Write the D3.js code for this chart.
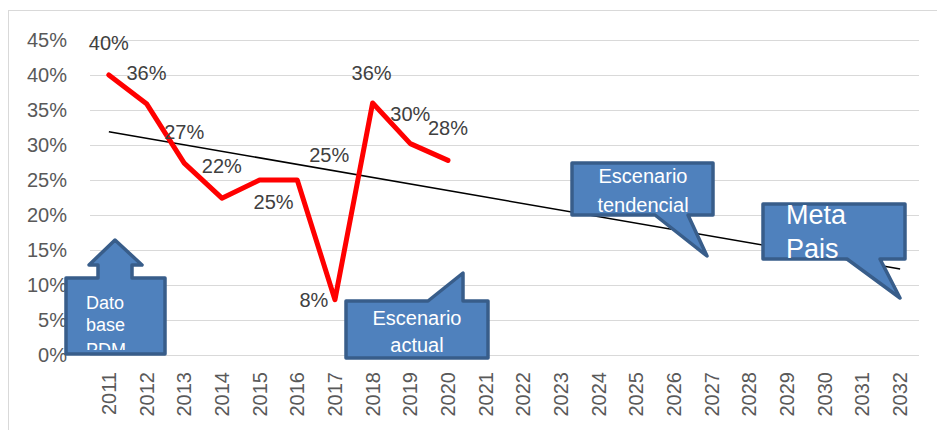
<!DOCTYPE html>
<html>
<head>
<meta charset="utf-8">
<script src="https://cdn.jsdelivr.net/npm/d3@7"></script>
<style>
  html, body { margin: 0; padding: 0; background: #fff; }
  svg text { font-family: "Liberation Sans", Arial, sans-serif; }
</style>
</head>
<body>
<svg id="chart" width="937" height="430"></svg>
<script>
// ---- data ----
const years = ["2011","2012","2013","2014","2015","2016","2017","2018","2019","2020","2021","2022","2023","2024","2025","2026","2027","2028","2029","2030","2031","2032"];
const actualYears = ["2011","2012","2013","2014","2015","2016","2017","2018","2019","2020"];
const actualValues = [0.40, 0.359, 0.274, 0.224, 0.25, 0.25, 0.079, 0.36, 0.302, 0.278];
const actualLabels = ["40%","36%","27%","22%","25%","25%","8%","36%","30%","28%"];
const trendYears = ["2011","2032"];
const trendValues = [0.319, 0.123];
const yTicks = [0, 0.05, 0.10, 0.15, 0.20, 0.25, 0.30, 0.35, 0.40, 0.45];
const yTickLabels = ["0%","5%","10%","15%","20%","25%","30%","35%","40%","45%"];

// ---- layout ----
const svg = d3.select("#chart");
const plot = {left: 90, right: 919, top: 40, bottom: 355};

svg.append("rect").attr("x", 8.5).attr("y", 10.5).attr("width", 960).attr("height", 440)
  .attr("fill", "#fff").attr("stroke", "#d9d9d9").attr("stroke-width", 1);

const x = d3.scaleBand().domain(years).range([plot.left, plot.right]).padding(0);
const xc = d => x(d) + x.bandwidth() / 2;
const y = d3.scaleLinear().domain([0, 0.45]).range([plot.bottom, plot.top]);

// gridlines
svg.append("g").selectAll("line").data(yTicks).join("line")
  .attr("x1", plot.left).attr("x2", plot.right)
  .attr("y1", d => Math.round(y(d)) + 0.5).attr("y2", d => Math.round(y(d)) + 0.5)
  .attr("stroke", "#d9d9d9").attr("stroke-width", 1.2);

// y axis labels
const yAxis = d3.axisLeft(y).tickValues(yTicks).tickSize(0).tickPadding(0)
  .tickFormat((d, i) => yTickLabels[i]);
const gy = svg.append("g").attr("transform", `translate(67,0)`).call(yAxis);
gy.select(".domain").remove();
gy.selectAll("text").attr("font-size", 20).attr("fill", "#595959")
  .attr("font-family", "'Liberation Sans', Arial, sans-serif");

// x axis labels
const xAxis = d3.axisBottom(x).tickSize(0).tickPadding(0);
const gx = svg.append("g").attr("transform", `translate(0,${plot.bottom})`).call(xAxis);
gx.select(".domain").remove();
gx.selectAll("text")
  .attr("font-size", 20).attr("fill", "#595959")
  .attr("font-family", "'Liberation Sans', Arial, sans-serif")
  .attr("text-anchor", "end")
  .attr("transform", "rotate(-90)")
  .attr("x", -17).attr("y", 0).attr("dy", "0.35em");

// trend line
const trend = trendYears.map((d, i) => ({year: d, v: trendValues[i]}));
svg.append("path").datum(trend)
  .attr("d", d3.line().x(d => xc(d.year)).y(d => y(d.v)))
  .attr("fill", "none").attr("stroke", "#000").attr("stroke-width", 1.5);

// actual line
const actual = actualYears.map((d, i) => ({year: d, v: actualValues[i], label: actualLabels[i]}));
svg.append("path").datum(actual)
  .attr("d", d3.line().x(d => xc(d.year)).y(d => y(d.v)))
  .attr("fill", "none").attr("stroke", "#ff0000").attr("stroke-width", 5)
  .attr("stroke-linejoin", "round").attr("stroke-linecap", "round");

// data labels (offsets relative to each point)
const labelOffsets = [[0,-25],[0,-24],[0,-24],[0,-25],[14,29],[32,-18],[-21,7],[-1,-23],[0,-23],[0,-25]];
svg.append("g").selectAll("text").data(actual).join("text")
  .attr("x", (d, i) => xc(d.year) + labelOffsets[i][0])
  .attr("y", (d, i) => y(d.v) + labelOffsets[i][1])
  .attr("text-anchor", "middle").attr("font-size", 20).attr("fill", "#404040")
  .text(d => d.label);

// ---- callouts ----
const calloutFill = "#4f81bd", calloutStroke = "#385d8a";
const callouts = [
  {id: "c1", path: "M66,278 H98 V265 H89 L115,240 L142,265 H132 V278 H165 V354 H66 Z",
   clip: [66,278,99,72], lines: ["Dato","base","PDM"], tx: 86, ty: [309, 331, 356], anchor: "start", size: 18},
  {id: "c2", path: "M346,301 H428 L463,273 V301 H488 V358 H346 Z",
   clip: [346,301,142,57], lines: ["Escenario","actual"], tx: 417, ty: [325, 352], anchor: "middle", size: 20},
  {id: "c3", path: "M572,163 H713 V215 H688 L707,256 L655,215 H572 Z",
   clip: [572,160,141,57], lines: ["Escenario","tendencial"], tx: 643, ty: [183, 212], anchor: "middle", size: 20},
  {id: "c4", path: "M763,204 H905 V259 H880 L900,298 L847,259 H763 Z",
   clip: [763,200,142,58], lines: ["Meta","Pais"], tx: 786, ty: [224, 258], anchor: "start", size: 27}
];
const defs = svg.append("defs");
callouts.forEach(c => {
  defs.append("clipPath").attr("id", "clip-" + c.id).append("rect")
    .attr("x", c.clip[0]).attr("y", c.clip[1]).attr("width", c.clip[2]).attr("height", c.clip[3]);
  const g = svg.append("g");
  g.append("path").attr("d", c.path).attr("fill", calloutFill).attr("stroke", calloutStroke)
    .attr("stroke-width", 3.5).attr("stroke-linejoin", "round");
  const t = g.append("g").attr("clip-path", `url(#clip-${c.id})`);
  c.lines.forEach((ln, i) => {
    t.append("text").attr("x", c.tx).attr("y", c.ty[i]).attr("text-anchor", c.anchor)
      .attr("font-size", c.size).attr("fill", "#fff").text(ln);
  });
});
</script>
</body>
</html>
